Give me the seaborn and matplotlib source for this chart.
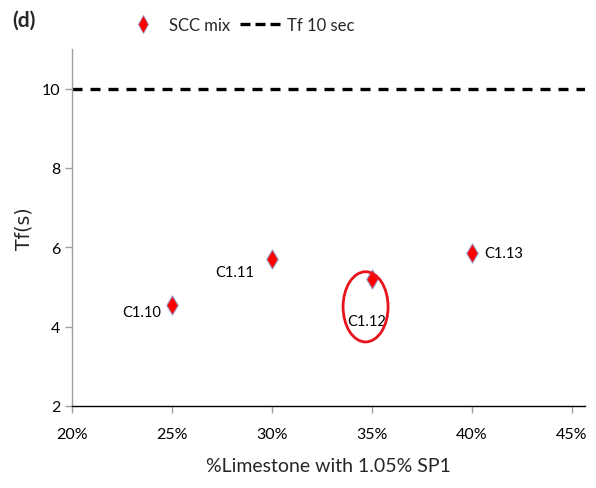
import matplotlib
matplotlib.use("Agg")
import matplotlib.pyplot as plt
from matplotlib.patches import Ellipse
from matplotlib.lines import Line2D
from matplotlib.ticker import FuncFormatter
import seaborn as sns
import pandas as pd

# Flow time (Tf) of SCC mixes vs limestone content
mixes = ["C1.10", "C1.11", "C1.12", "C1.13"]
limestone_pct = [25, 30, 35, 40]
tf_seconds = [4.55, 5.7, 5.2, 5.85]
tf_limit = 10
x_ticks = [20, 25, 30, 35, 40, 45]
y_ticks = [2, 4, 6, 8, 10]

df = pd.DataFrame({"mix": mixes, "limestone": limestone_pct, "tf": tf_seconds})

sns.set_theme(style="white")
plt.rcParams["font.family"] = ["Lato", "DejaVu Sans"]

fig = plt.figure(figsize=(5.96, 4.89), dpi=100)
ax = fig.add_axes([0.1208, 0.1677, 0.8607, 0.7301])

sns.scatterplot(data=df, x="limestone", y="tf", marker="d", s=95,
                color="#ff0000", edgecolor="#9a9ac8", linewidth=0.8,
                ax=ax, legend=False, zorder=3)
ax.axhline(tf_limit, color="black", linestyle=(0, (3, 2.4)), linewidth=2.4, zorder=2)

# data labels: (dx, dy, ha) in points
offsets = {"C1.10": (-8, -5, "right"), "C1.11": (-13, -9, "right"),
           "C1.12": (-4, -30, "center"), "C1.13": (9, 0, "left")}
for m, x, y in zip(mixes, limestone_pct, tf_seconds):
    dx, dy, ha = offsets[m]
    ax.annotate(m, (x, y), xytext=(dx, dy), textcoords="offset points",
                fontsize=10.5, va="center", ha=ha, color="black")

# highlight around C1.12
ax.add_patch(Ellipse((34.68, 4.5), 2.25, 1.77, fill=False, edgecolor="#e8141c",
                     linewidth=2.0, zorder=4))

ax.set_xlim(20, 45.65)
ax.set_ylim(2, 11)
ax.set_xticks(x_ticks)
ax.set_yticks(y_ticks)
ax.xaxis.set_major_formatter(FuncFormatter(lambda v, p: f"{int(round(v))}%"))
ax.tick_params(axis="both", labelsize=11.5, colors="#a0a0a0", labelcolor="black",
               direction="out", length=5, width=1, left=True, bottom=True)
ax.tick_params(axis="x", pad=10)

for s in ["top", "right"]:
    ax.spines[s].set_visible(False)
ax.spines["left"].set_color("#a0a0a0")
ax.spines["bottom"].set_color("black")
ax.spines["left"].set_linewidth(1)
ax.spines["bottom"].set_linewidth(1)

ax.set_xlabel("%Limestone with 1.05% SP1", fontsize=14, labelpad=12)
ax.set_ylabel("Tf(s)", fontsize=13.5, family="DejaVu Sans", labelpad=6)

handles = [
    Line2D([], [], marker="d", color="#ff0000", linestyle="none", markersize=9,
           markeredgecolor="#9a9ac8", markeredgewidth=0.6, label="SCC mix"),
    Line2D([], [], color="black", linestyle=(0, (3, 1.5)), linewidth=2.4, label="Tf 10 sec"),
]
fig.legend(handles=handles, loc="center", bbox_to_anchor=(0.4, 0.947), ncol=2,
           frameon=False, fontsize=12, handlelength=2.5, handletextpad=0.3,
           columnspacing=0.6)

fig.text(0.02, 0.958, "(d)", fontsize=15, fontweight="bold", va="center", ha="left")

fig.savefig("out.png", dpi=100)
